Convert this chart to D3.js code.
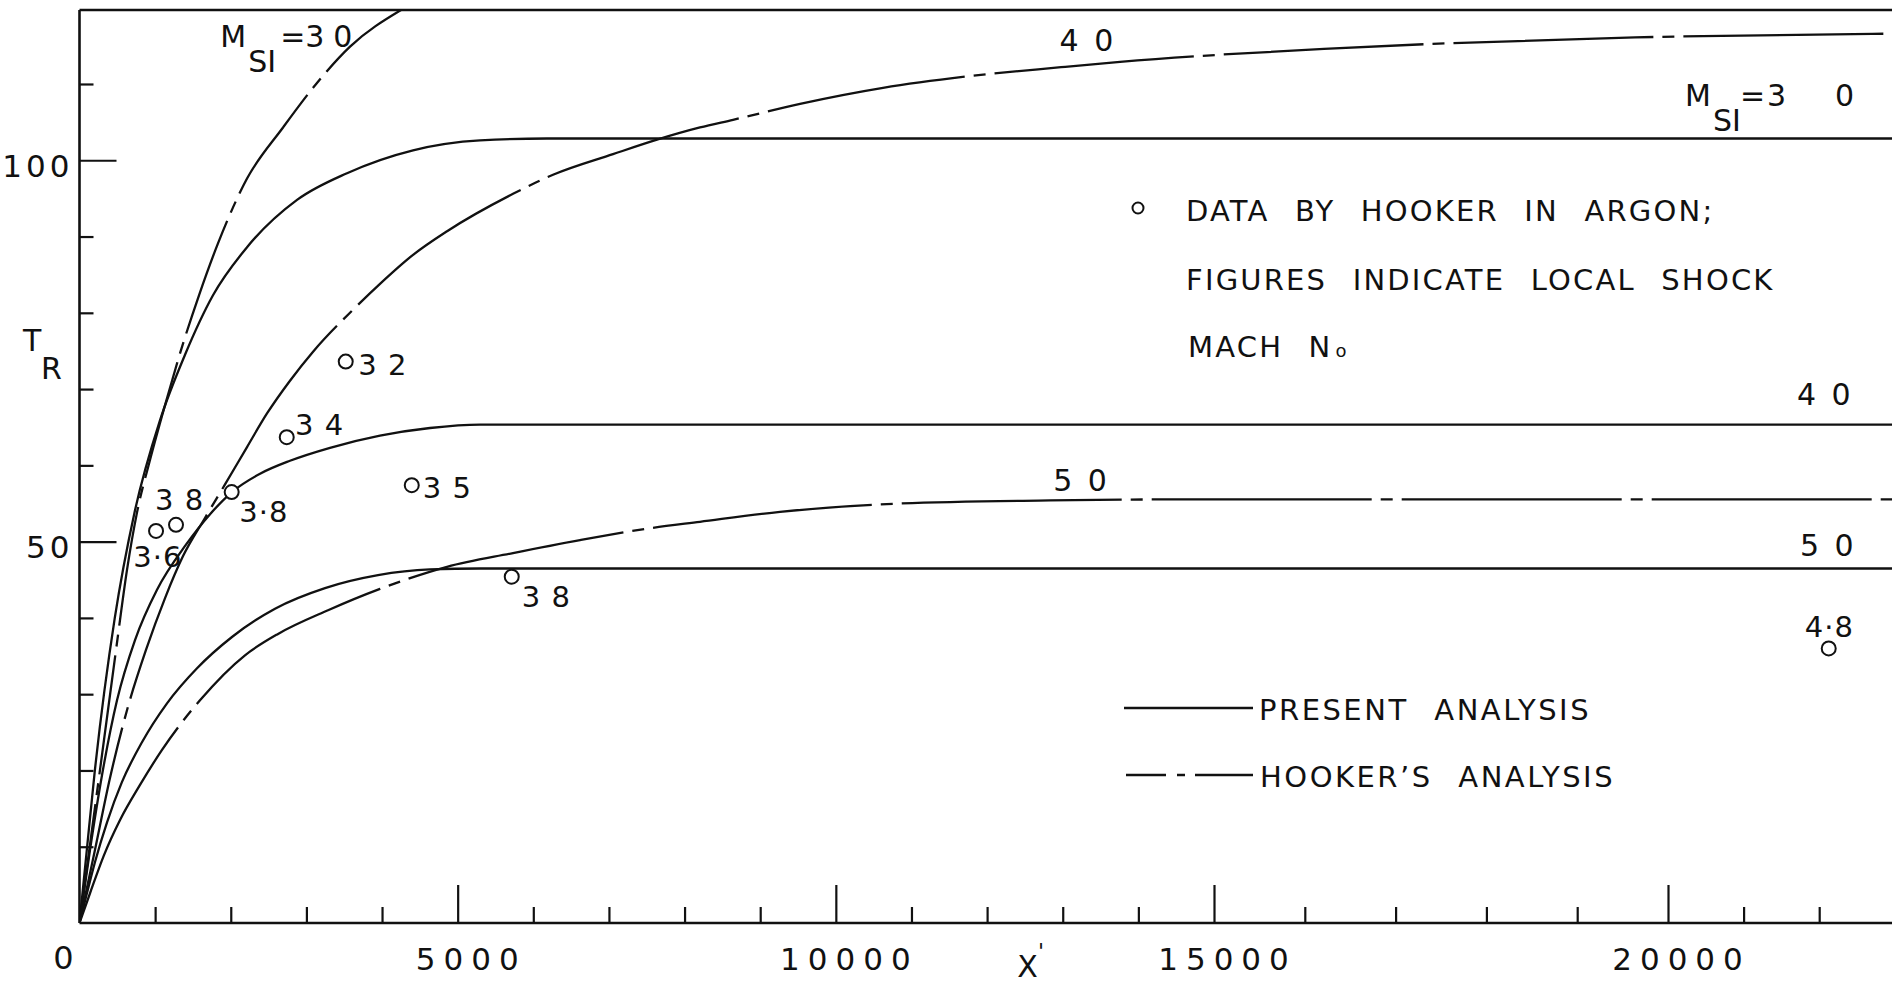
<!DOCTYPE html>
<html>
<head>
<meta charset="utf-8">
<script src="https://cdn.jsdelivr.net/npm/d3@7"></script>
<style>
  html, body { margin: 0; padding: 0; background: #fff; }
  svg { display: block; }
  text { font-family: "DejaVu Sans", sans-serif; fill: #111; }
</style>
</head>
<body>
<svg id="chart" width="1892" height="988"></svg>
<script>
// ---- axis ticks ----
const xMajorTicks = [5000, 10000, 15000, 20000];
const xMinorTicks = d3.range(1000, 24000, 1000).filter(v => !xMajorTicks.includes(v));
const yMajorTicks = [50, 100];
const yMinorTicks = [10, 20, 30, 40, 60, 70, 80, 90, 110];

// ---- present analysis: T_R against X' ----
const presentM30 = [[0,0],[99,9.8],[201,19.8],[465,39.9],[727,53.8],[1064,65.9],[1395,74.5],[1765,82.3],
  [2215,88.6],[2876,94.8],[3537,98.3],[4410,101.3],[5296,102.6],[6181,102.85],[8000,102.85],[23000,102.85]];
const presentM40 = [[0,0],[139,9.6],[298,19.4],[496,29.2],[734,37.1],[1025,43.7],[1408,49.6],[1726,53.6],
  [2016,56.5],[2387,58.9],[2783,60.6],[3312,62.3],[3973,63.9],[4634,64.9],[5296,65.35],[6089,65.35],[23000,65.35]];
const presentM50 = [[0,0],[86,3.4],[205,8.0],[364,13.2],[562,18.5],[826,23.7],[1157,28.8],[1554,33.4],
  [2016,37.5],[2585,41.2],[3246,43.9],[3947,45.6],[4634,46.35],[5296,46.48],[6089,46.48],[23000,46.48]];

// ---- Hooker's analysis ----
const hookerM30 = [[0,0],[165,12.2],[324,24.0],[483,35.8],[628,46.3],[760,53.8],[932,60.7],[1131,67.9],
  [1342,75.1],[1580,82.3],[1831,89.1],[2215,97.6],[2691,104.3],[3088,109.5],[3577,114.9],[4251,119.7]];
const hookerM40 = [[0,0],[205,9.6],[403,19.0],[628,27.9],[879,35.8],[1131,42.6],[1369,48.1],[1659,53.1],
  [1924,57.5],[2215,62.4],[2479,66.8],[2783,71.1],[3088,74.9],[3616,80.4],[3973,83.8],[4410,87.6],
  [4860,90.7],[5732,95.6],[6261,98.1],[7054,100.8],[7636,102.7],[8204,104.3],[8641,105.3],[9527,107.4],
  [10624,109.5],[11735,111.0],[12978,112.2],[13758,112.9],[16211,114.6],[19637,116.1],[22963,116.6]];
const hookerM50 = [[0,0],[139,3.9],[324,8.9],[536,13.5],[800,18.1],[1091,22.7],[1593,29.2],[2188,35.1],
  [2625,37.9],[3286,41.0],[3973,43.8],[4860,46.7],[5732,48.5],[6618,50.2],[7503,51.7],[8204,52.6],
  [9262,53.9],[10849,55.0],[12832,55.4],[15000,55.55],[23000,55.55]];

// ---- measured points (Hooker, argon) with local shock Mach number ----
const hookerX     = [3520, 2740, 4393, 2012, 1012, 1276, 5715, 22126];
const hookerT     = [73.6, 63.7, 57.4, 56.5, 51.4, 52.2, 45.4, 36.0];
const hookerMach  = ["3 2", "3 4", "3 5", "3·8", "3·6", "3 8", "3 8", "4·8"];

// label offsets (px) of each point's Mach number from its circle
const machLabelOffset = [[12.6,13.3],[8.3,-1.7],[11,13.3],[7.6,30],[-22.7,35.7],[-21,-15],[10,30],[-24,-11.3]];

// ---- scales ----
const svg = d3.select("#chart");
const x = d3.scaleLinear().domain([0, 15000, 20000, 23000]).range([79.5, 1214, 1668, 1894.8]);
const y = d3.scaleLinear().domain([0, 119.7]).range([923, 10]);

const INK = "#111";
const FONT = '"DejaVu Sans", sans-serif';

svg.append("defs").append("clipPath").attr("id", "plot")
  .append("rect").attr("x", x(0)).attr("y", y(119.7)).attr("width", 1892 - x(0)).attr("height", y(0) - y(119.7));

// ---- frame: axes lines and top rule ----
const frame = svg.append("g").attr("stroke", INK).attr("stroke-width", 2.6).attr("fill", "none");
frame.append("line").attr("x1", x(0)).attr("x2", x(0)).attr("y1", y(119.7)).attr("y2", y(0));
frame.append("line").attr("x1", x(0)).attr("x2", 1892).attr("y1", y(0)).attr("y2", y(0));
frame.append("line").attr("x1", x(0)).attr("x2", 1892).attr("y1", y(119.7)).attr("y2", y(119.7));

function styleAxis(g) {
  g.select(".domain").remove();
  g.selectAll(".tick line").attr("stroke", INK).attr("stroke-width", 2.2);
  g.attr("font-family", FONT).attr("font-size", 31);
  g.selectAll(".tick text").attr("fill", INK).attr("letter-spacing", 8);
}

// x axis: ticks pointing up into the plot
svg.append("g").attr("transform", `translate(0,${y(0)})`)
  .call(d3.axisBottom(x).tickValues(xMinorTicks).tickSize(-16).tickFormat(""))
  .call(styleAxis);
svg.append("g").attr("transform", `translate(0,${y(0)})`)
  .call(d3.axisBottom(x).tickValues(xMajorTicks).tickSize(-38).tickPadding(25).tickFormat(d3.format("d")))
  .call(styleAxis)
  .call(g => g.selectAll(".tick text").attr("dx", 13));

// origin label
svg.append("text").attr("x", x(0) - 6).attr("y", y(0) + 46).attr("text-anchor", "end")
  .attr("font-size", 32).text("0");

// y axis: ticks pointing right into the plot, labels on the left
svg.append("g").attr("transform", `translate(${x(0)},0)`)
  .call(d3.axisLeft(y).tickValues(yMinorTicks).tickSize(-14).tickFormat(""))
  .call(styleAxis);
svg.append("g").attr("transform", `translate(${x(0)},0)`)
  .call(d3.axisLeft(y).tickValues(yMajorTicks).tickSize(-37).tickPadding(6).tickFormat(d3.format("d")))
  .call(styleAxis)
  .call(g => g.selectAll(".tick text").attr("dy", "0.52em").attr("letter-spacing", 4));

// axis titles
const tTitle = svg.append("text").attr("x", 23).attr("y", y(75)).attr("font-size", 30);
tTitle.append("tspan").text("T");
tTitle.append("tspan").attr("x", 41).attr("dy", 28).text("R");

const xTitle = svg.append("text").attr("x", x(12400)).attr("y", y(0) + 54).attr("font-size", 30);
xTitle.append("tspan").text("X");
xTitle.append("tspan").attr("dy", -18).attr("font-size", 22).text("'");

// ---- curves ----
const line = d3.line().x(d => x(d[0])).y(d => y(d[1])).curve(d3.curveMonotoneX);
const curves = svg.append("g").attr("clip-path", "url(#plot)")
  .attr("fill", "none").attr("stroke", INK).attr("stroke-width", 2.3)
  .attr("stroke-linecap", "butt").attr("stroke-linejoin", "round");

[presentM30, presentM40, presentM50].forEach(s => curves.append("path").attr("d", line(s)));
[[hookerM30, "120 9 12 9"], [hookerM40, "200 9 12 9"], [hookerM50, "220 9 12 9"]]
  .forEach(([s, dash]) => curves.append("path").attr("d", line(s)).attr("stroke-dasharray", dash));

// ---- measured points ----
const pts = svg.append("g");
hookerX.forEach((xv, i) => {
  const cx = x(xv), cy = y(hookerT[i]);
  pts.append("circle").attr("cx", cx).attr("cy", cy).attr("r", 7)
    .attr("fill", "#fff").attr("stroke", INK).attr("stroke-width", 2);
  pts.append("text").attr("x", cx + machLabelOffset[i][0]).attr("y", cy + machLabelOffset[i][1])
    .attr("font-size", 29).attr("letter-spacing", 1).attr("xml:space", "preserve").text(hookerMach[i]);
});

// ---- curve labels ----
function machLabel(px, py) {
  const t = svg.append("text").attr("x", px).attr("y", py).attr("font-size", 30);
  t.append("tspan").text("M");
  t.append("tspan").attr("x", px + 28).attr("dy", 25).text("SI");
  return t;
}
// steep Hooker curve, top left
const mTop = machLabel(x(1860), y(114.9));
mTop.append("tspan").attr("x", x(1860) + 60).attr("dy", -25).text("=3");
mTop.append("tspan").attr("x", x(1860) + 113).text("0");
// present M = 3.0 plateau, right
const mRight = machLabel(x(20225), y(107.1));
mRight.append("tspan").attr("x", x(20225) + 55).attr("dy", -25).text("=");
mRight.append("tspan").attr("x", x(20225) + 82).text("3");
mRight.append("tspan").attr("x", x(20225) + 150).text("0");

const plateauLabels = [["4 0", 12958, 114.3], ["5 0", 12873, 56.6], ["4 0", 21706, 67.9], ["5 0", 21746, 48.1]];
plateauLabels.forEach(([s, xv, tv]) => {
  svg.append("text").attr("x", x(xv)).attr("y", y(tv)).attr("font-size", 30)
    .attr("xml:space", "preserve").attr("letter-spacing", 3).text(s);
});

// ---- note on the data ----
svg.append("circle").attr("cx", 1138).attr("cy", 208).attr("r", 5.5)
  .attr("fill", "none").attr("stroke", INK).attr("stroke-width", 2);
const note = svg.append("g").attr("font-size", 29).attr("letter-spacing", 2.2).attr("word-spacing", 14);
note.append("text").attr("x", 1186).attr("y", 221).text("DATA BY HOOKER IN ARGON;");
note.append("text").attr("x", 1186).attr("y", 290).text("FIGURES INDICATE LOCAL SHOCK");
const mach = note.append("text").attr("x", 1188).attr("y", 357);
mach.append("tspan").text("MACH N");
mach.append("tspan").attr("dx", 3).attr("font-size", 18).text("o");

// ---- legend ----
const legend = svg.append("g");
legend.append("line").attr("x1", 1124).attr("x2", 1253).attr("y1", 708).attr("y2", 708)
  .attr("stroke", INK).attr("stroke-width", 2.3);
legend.append("line").attr("x1", 1126).attr("x2", 1253).attr("y1", 775).attr("y2", 775)
  .attr("stroke", INK).attr("stroke-width", 2.3).attr("stroke-dasharray", "40 11 8 10 70");
legend.append("text").attr("x", 1259).attr("y", 720).attr("font-size", 29)
  .attr("letter-spacing", 2.5).attr("word-spacing", 14).text("PRESENT ANALYSIS");
legend.append("text").attr("x", 1260).attr("y", 787).attr("font-size", 29)
  .attr("letter-spacing", 2.5).attr("word-spacing", 14).text("HOOKER’S ANALYSIS");
</script>
</body>
</html>
